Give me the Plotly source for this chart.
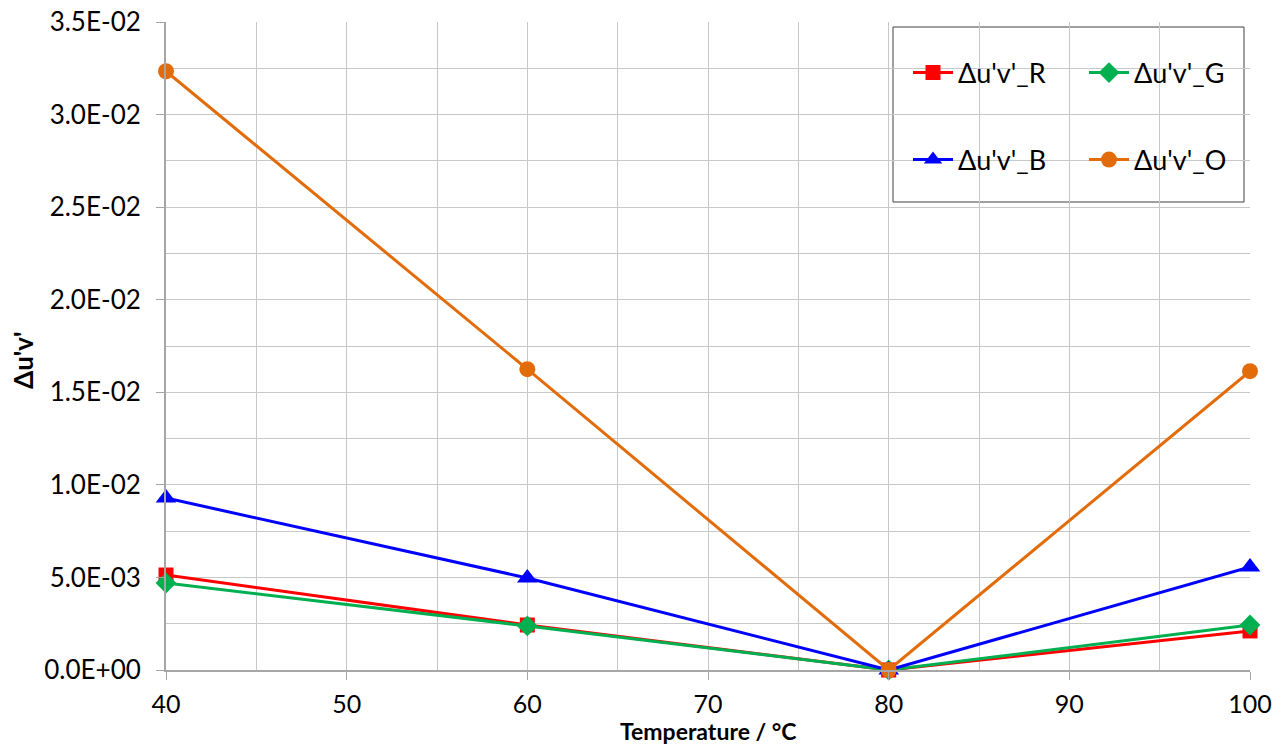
import plotly.graph_objects as go

temps = [40, 60, 80, 100]
du_R = [0.00513, 0.00243, 0.0, 0.00211]
du_G = [0.00470, 0.00238, 0.0, 0.00243]
du_B = [0.00929, 0.00497, 0.0, 0.00556]
du_O = [0.03234, 0.01625, 0.0, 0.01614]

series_names = ["Δu'v'_R", "Δu'v'_G", "Δu'v'_B", "Δu'v'_O"]
series_colors = ["#ff0000", "#00b050", "#0000ff", "#e36c0a"]
series_symbols = ["square", "diamond", "triangle-up", "circle"]
series_sizes = [15, 16, 18, 16]
series_legend = ["legend", "legend", "legend2", "legend2"]

y_tickvals = [0.0, 0.005, 0.010, 0.015, 0.020, 0.025, 0.030, 0.035]
y_ticktext = ["0.0E+00", "5.0E-03", "1.0E-02", "1.5E-02", "2.0E-02", "2.5E-02", "3.0E-02", "3.5E-02"]
x_tickvals = [40, 50, 60, 70, 80, 90, 100]

font_family = "Lato, 'Open Sans', sans-serif"

W, H = 1285, 746
L, R, T, B = 166, 35, 22, 76
PW, PH = W - L - R, H - T - B


def px_x(p):
    return (p - L) / PW


def px_y(p):
    return (H - B - p) / PH


fig = go.Figure()
for name, ys, col, sym, sz, lg in zip(series_names, [du_R, du_G, du_B, du_O],
                                      series_colors, series_symbols, series_sizes, series_legend):
    fig.add_trace(go.Scatter(
        x=temps, y=ys, name=name, mode="lines+markers",
        line=dict(color=col, width=3),
        marker=dict(symbol=sym, size=sz, color=col),
        cliponaxis=False, legend=lg,
    ))

grid_col = "#c8c8c8"
axis_col = "#a6a6a6"

legend_common = dict(
    orientation="h", xanchor="left", yanchor="middle",
    xref="paper", yref="paper", entrywidth=121, entrywidthmode="pixels",
    font=dict(size=27), bgcolor="rgba(0,0,0,0)", itemwidth=40,
)

fig.update_layout(
    width=W, height=H,
    margin=dict(l=L, r=R, t=T, b=B, autoexpand=False),
    plot_bgcolor="white", paper_bgcolor="white",
    font=dict(family=font_family, color="black", size=26),
    xaxis=dict(
        range=[40, 100], tickvals=x_tickvals, showgrid=True, gridcolor=grid_col, gridwidth=1,
        minor=dict(dtick=5, showgrid=True, gridcolor=grid_col, gridwidth=1, ticks=""),
        showline=True, linecolor=axis_col, linewidth=2,
        ticks="outside", ticklen=8, tickcolor=axis_col, tickwidth=1,
        tickfont=dict(size=25), zeroline=False, ticklabelstandoff=3,
    ),
    yaxis=dict(
        range=[0, 0.035], tickvals=y_tickvals, ticktext=y_ticktext,
        showgrid=True, gridcolor=grid_col, gridwidth=1,
        minor=dict(dtick=0.0025, showgrid=True, gridcolor=grid_col, gridwidth=1, ticks=""),
        showline=True, linecolor=axis_col, linewidth=2,
        ticks="outside", ticklen=8, tickcolor=axis_col, tickwidth=1,
        tickfont=dict(size=26), zeroline=False, ticklabelstandoff=10,
    ),
    legend=dict(legend_common, x=px_x(908), y=px_y(73)),
    legend2=dict(legend_common, x=px_x(908), y=px_y(160)),
    shapes=[dict(type="rect", xref="paper", yref="paper",
                 x0=px_x(893), x1=px_x(1244), y0=px_y(202), y1=px_y(27),
                 line=dict(color="#404040", width=1), fillcolor="white", layer="below")],
    annotations=[
        dict(text="<b>Temperature / °C</b>", xref="paper", yref="paper",
             x=px_x(708), y=px_y(747), xanchor="center", yanchor="bottom",
             showarrow=False, font=dict(size=23)),
        dict(text="<b>Δu'v'</b>", xref="paper", yref="paper",
             x=px_x(5), y=px_y(360), xanchor="left", yanchor="middle", textangle=-90,
             showarrow=False, font=dict(size=26)),
    ],
)

fig.write_html("out.html")
